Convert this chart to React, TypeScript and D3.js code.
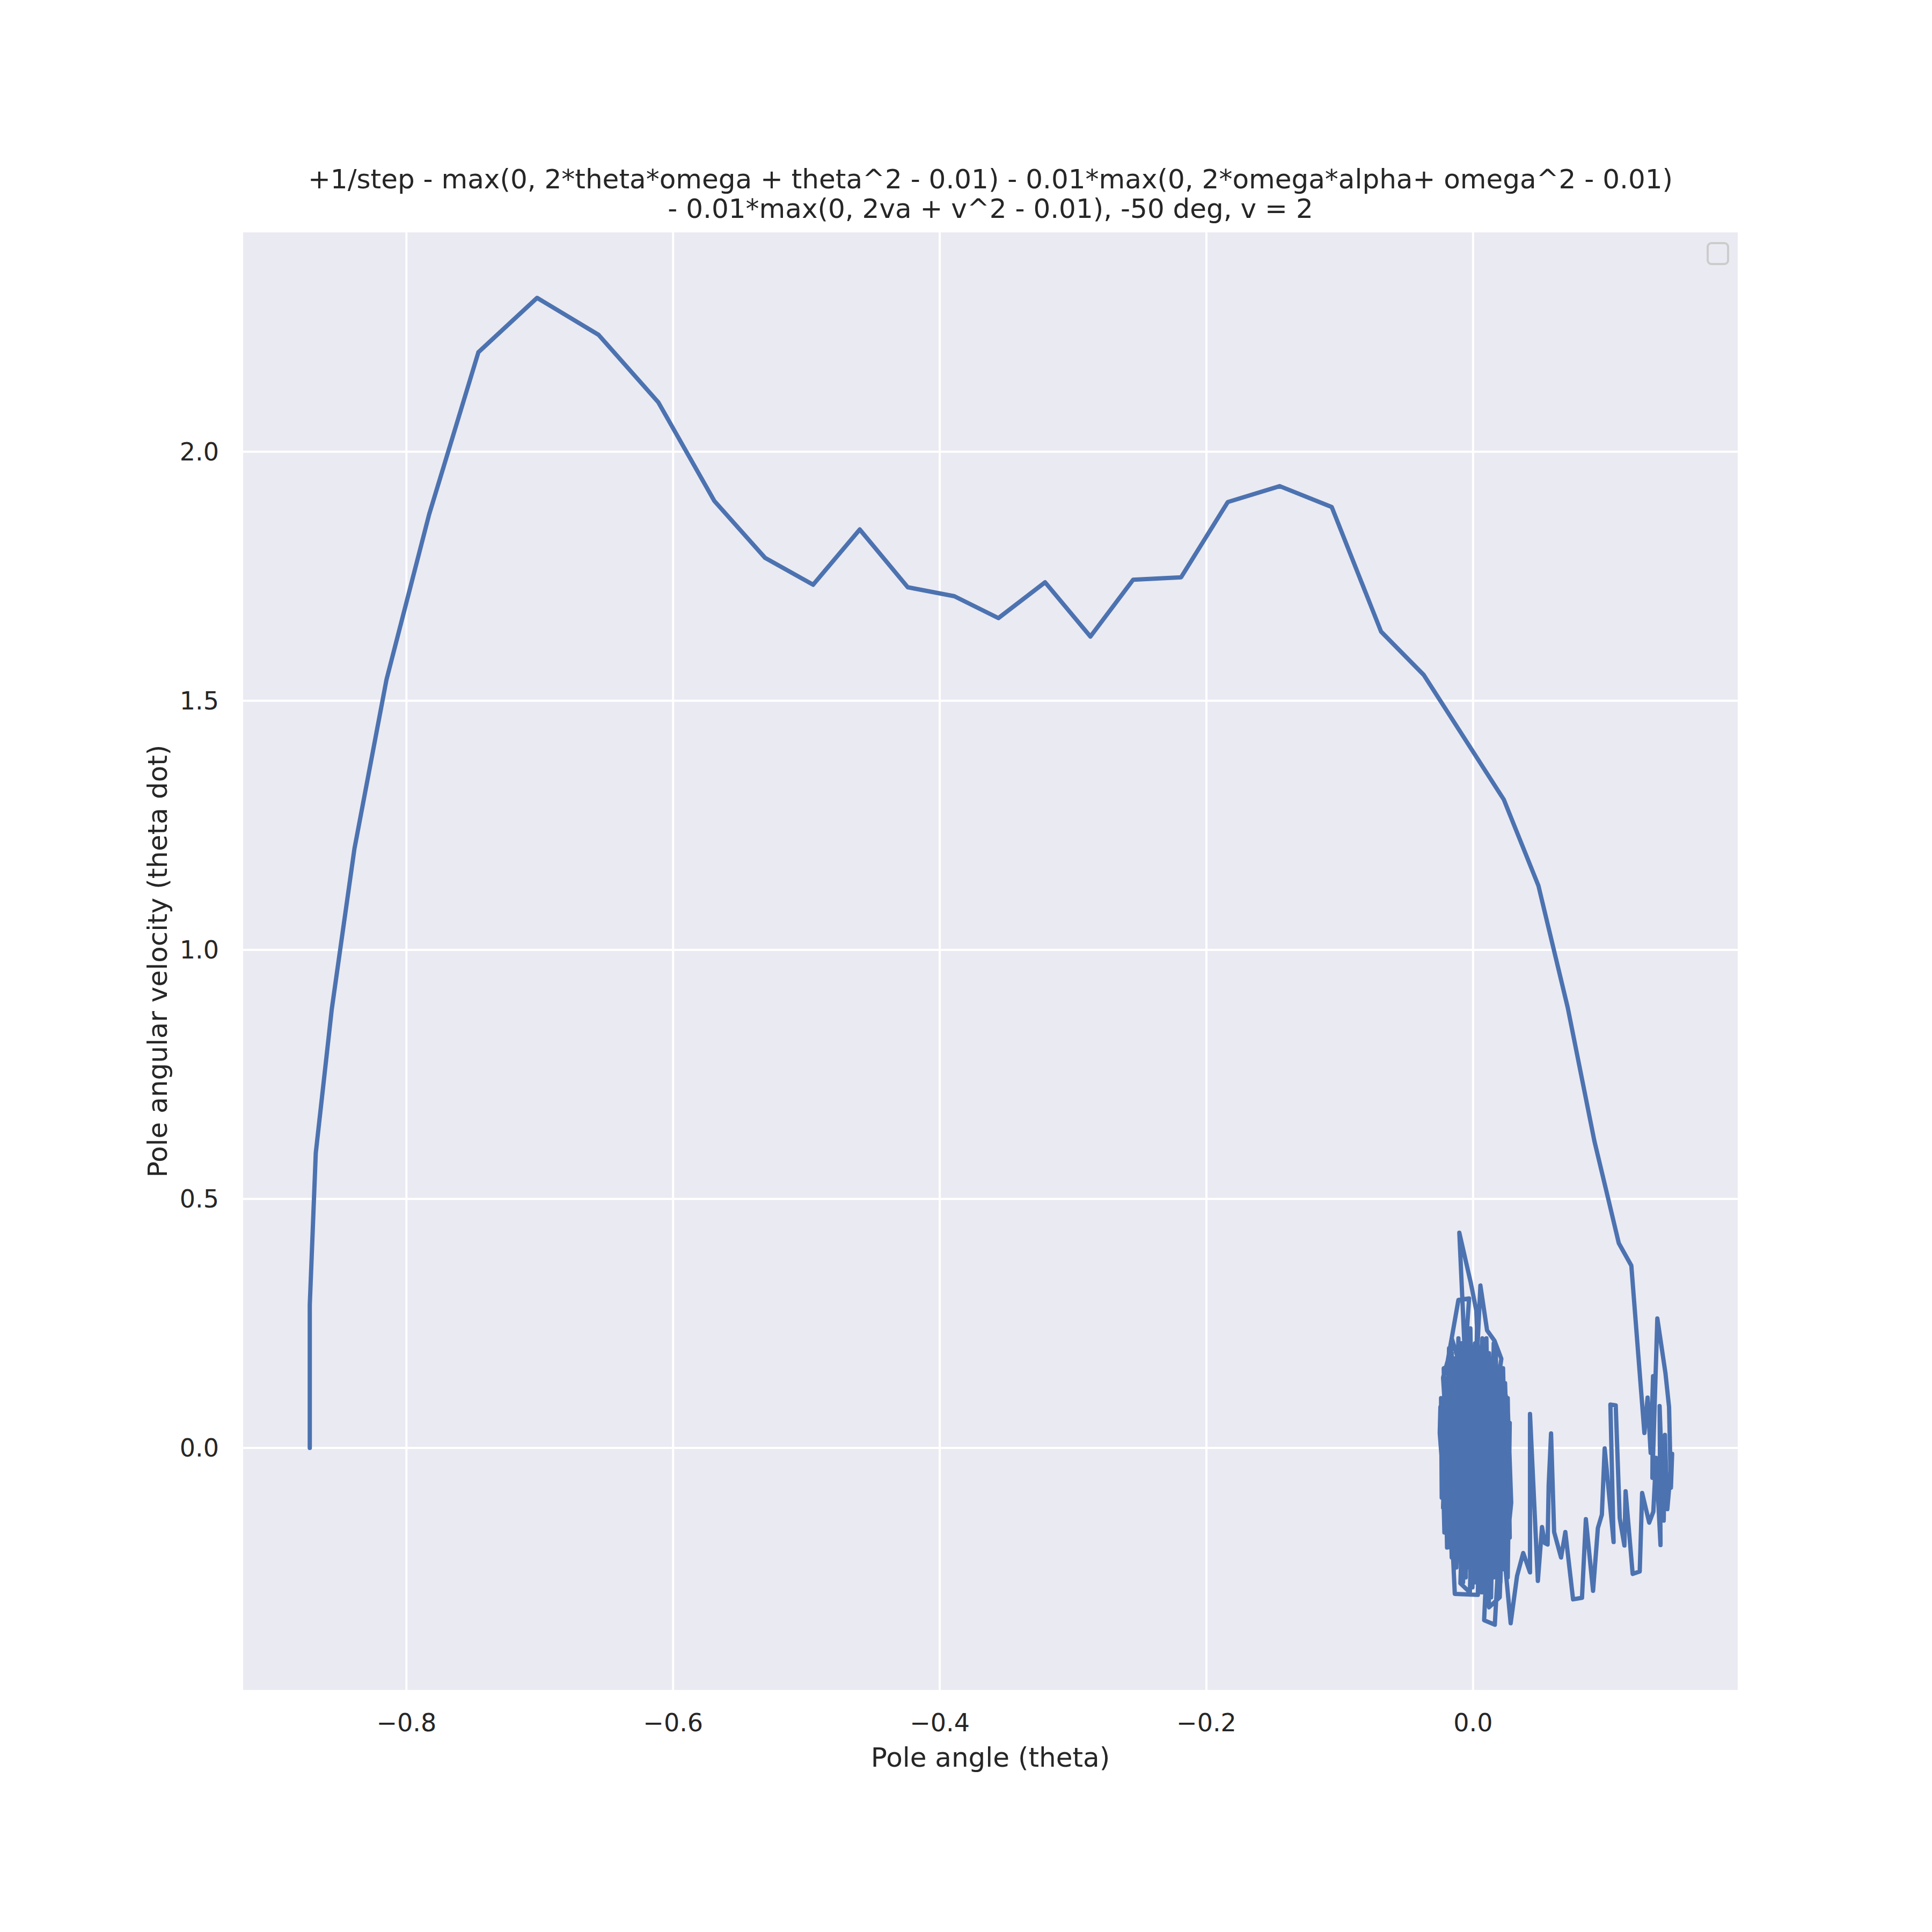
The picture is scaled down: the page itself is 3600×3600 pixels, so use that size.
import React from 'react';
import * as d3 from 'd3';

// swing-up part of the trajectory: [theta, theta dot]
const swingUp: [number, number][] = [
  [-0.8725, 0.0], [-0.8725, 0.287], [-0.868, 0.592], [-0.856, 0.881],
  [-0.839, 1.203], [-0.815, 1.542], [-0.783, 1.874], [-0.746, 2.2],
  [-0.702, 2.309], [-0.656, 2.235], [-0.611, 2.099], [-0.569, 1.901],
  [-0.531, 1.787], [-0.495, 1.733], [-0.46, 1.844], [-0.424, 1.728],
  [-0.389, 1.71], [-0.356, 1.666], [-0.321, 1.738], [-0.287, 1.629],
  [-0.255, 1.743], [-0.219, 1.748], [-0.184, 1.899], [-0.145, 1.931],
  [-0.106, 1.889], [-0.069, 1.639], [-0.037, 1.552], [0.023, 1.302],
  [0.049, 1.129], [0.071, 0.884], [0.091, 0.616], [0.102, 0.493],
  [0.1093, 0.411], [0.1187, 0.366],
];

// oscillation on the right after the swing
const rightCluster: [number, number][] = [
  [0.1285, 0.03], [0.1309, 0.101], [0.1332, -0.01], [0.135, 0.144],
  [0.1345, -0.06], [0.1382, 0.26], [0.1443, 0.15], [0.147, 0.082],
  [0.1484, -0.08], [0.1493, -0.012], [0.1457, -0.123], [0.1439, 0.026],
  [0.143, -0.146], [0.1399, 0.084], [0.1406, -0.195], [0.1372, -0.02],
  [0.1352, -0.128], [0.1321, -0.15], [0.1268, -0.0905],
];

// drift back towards theta = 0
const driftBack: [number, number][] = [
  [0.125, -0.248], [0.1197, -0.253], [0.1144, -0.087], [0.1135, -0.196],
  [0.11, -0.141], [0.107, 0.0855], [0.103, 0.087], [0.1054, -0.189],
  [0.0987, -0.001], [0.0966, -0.134], [0.0936, -0.161], [0.09, -0.287],
  [0.0846, -0.143], [0.0817, -0.301], [0.075, -0.304], [0.0692, -0.169],
  [0.066, -0.22], [0.0608, -0.169], [0.0585, 0.029], [0.0567, -0.075],
  [0.0559, -0.194], [0.0538, -0.191], [0.0517, -0.159], [0.0486, -0.267],
  [0.0427, 0.068], [0.0427, -0.25], [0.0376, -0.211], [0.033, -0.257],
];

// balancing around the upright position
const settle: [number, number][] = [
  [0.0282, -0.352], [0.0236, -0.222], [0.0276, -0.11], [0.0256, 0.088],
  [0.0163, -0.355], [0.0083, -0.346], [0.015, 0.06], [0.0212, 0.179],
  [0.0161, 0.215], [0.0105, 0.236], [0.0055, 0.326], [0.0024, 0.15],
  [-0.0024, -0.29], [-0.0095, -0.272], [-0.005, 0.12], [-0.0103, 0.432],
  [-0.0016, 0.33], [0.0024, 0.276], [0.006, 0.05], [0.0036, -0.295],
  [-0.0137, -0.293], [-0.018, -0.05], [-0.0225, 0.141], [-0.019, 0.175],
  [-0.011, 0.297], [-0.003, 0.3], [-0.008, 0.1], [-0.015, -0.2],
  [-0.0204, -0.131], [-0.025, 0.03], [-0.0245, 0.082], [-0.0197, 0.112],
  [-0.012, 0.0], [0.01, -0.25], [0.0183, -0.248], [0.0236, -0.242],
  [0.0286, -0.11], [0.0259, 0.091], [0.02, 0.15], [0.012, -0.2],
  [0.005, -0.15], [-0.005, 0.2], [-0.013, 0.05], [-0.022, -0.08],
  [-0.016, 0.22], [-0.008, 0.15], [0.0, -0.22], [0.007, 0.22],
  [0.014, 0.12], [0.018, -0.18], [0.024, 0.04], [0.02, -0.3],
  [0.012, -0.32], [0.006, 0.18], [-0.002, 0.06], [-0.01, -0.18],
  [-0.018, 0.08], [-0.014, 0.17], [-0.006, -0.1], [0.003, 0.1],
  [0.011, -0.05], [0.018, 0.1], [0.022, -0.15], [0.015, 0.02],
  [-0.022, 0.16], [-0.0195, -0.2], [-0.016, 0.19], [-0.0125, -0.24],
  [-0.009, 0.21], [-0.0055, -0.26], [-0.002, 0.24], [0.0015, -0.27],
  [0.005, 0.2], [0.0085, -0.28], [0.012, 0.19], [0.0155, -0.26],
  [0.019, 0.16], [0.0225, -0.24], [0.026, 0.1], [0.0275, -0.18],
  [0.024, 0.13], [0.0205, -0.27], [0.017, 0.2], [0.0135, -0.3],
  [0.01, 0.22], [0.0065, -0.29], [0.003, 0.25], [-0.0005, -0.28],
  [-0.004, 0.23], [-0.0075, -0.27], [-0.011, 0.22], [-0.0145, -0.25],
  [-0.018, 0.2], [-0.0215, -0.17], [-0.024, 0.1], [-0.0235, -0.1],
  [-0.0205, 0.12], [-0.017, -0.2], [-0.0135, 0.18], [-0.01, -0.22],
  [-0.0065, 0.16], [-0.003, -0.24], [0.0005, 0.19], [0.004, -0.22],
  [0.0075, 0.16], [0.011, -0.24], [0.0145, 0.17], [0.018, -0.22],
  [0.0215, 0.12], [0.025, -0.2], [0.0275, 0.05], [0.026, -0.26],
  [0.0225, 0.16], [0.019, -0.2], [0.0155, 0.21], [0.012, -0.27],
  [0.0085, 0.2], [0.005, -0.25], [0.0015, 0.21], [-0.002, -0.25],
  [-0.0055, 0.19], [-0.009, -0.25], [-0.0125, 0.17], [-0.016, -0.22],
  [-0.0195, 0.14], [-0.0225, -0.12], [-0.008, 0.03], [-0.004, 0.01],
];

const xTicks = [-0.8, -0.6, -0.4, -0.2, 0.0];
const yTicks = [0.0, 0.5, 1.0, 1.5, 2.0];

const titleLines = [
  '+1/step - max(0, 2*theta*omega + theta^2 - 0.01) - 0.01*max(0, 2*omega*alpha+ omega^2 - 0.01)',
  '- 0.01*max(0, 2va + v^2 - 0.01), -50 deg, v = 2',
];

const W = 3600;
const H = 3600;
const left = 453, right = 3238, top = 433, bottom = 3149;
const font = 'DejaVu Sans, sans-serif';
const ink = '#262626';

export default function App() {
  const x = d3.scaleLinear().domain([-0.9225, 0.1985]).range([left, right]);
  const y = d3.scaleLinear().domain([-0.486, 2.4405]).range([bottom, top]);

  const path = [...swingUp, ...rightCluster, ...driftBack, ...settle];
  const line = d3.line<[number, number]>()
    .x(d => x(d[0]))
    .y(d => y(d[1]));

  const fmt = (v: number) => d3.format('.1f')(v).replace('-', '\u2212');
  const cx = (left + right) / 2;
  const cy = (top + bottom) / 2;

  return (
    <svg width={W} height={H} style={{ position: 'absolute', left: 0, top: 0, background: '#fff' }}>
      <rect x={0} y={0} width={W} height={H} fill="#ffffff" />
      <rect x={left} y={top} width={right - left} height={bottom - top} fill="#EAEAF2" />
      {xTicks.map(t => (
        <line key={'gx' + t} x1={x(t)} x2={x(t)} y1={top} y2={bottom} stroke="#fff" strokeWidth={4} />
      ))}
      {yTicks.map(t => (
        <line key={'gy' + t} x1={left} x2={right} y1={y(t)} y2={y(t)} stroke="#fff" strokeWidth={4} />
      ))}
      <path
        d={line(path) || ''}
        fill="none"
        stroke="#4C72B0"
        strokeWidth={8}
        strokeLinejoin="round"
        strokeLinecap="round"
      />
      {/* empty legend */}
      <rect x={3182} y={453} width={38} height={39} rx={7} fill="#EAEAF2" stroke="#cccccc" strokeWidth={4} />

      {xTicks.map(t => (
        <text key={'tx' + t} x={x(t)} y={3226} textAnchor="middle" fontFamily={font} fontSize={46} fill={ink}>
          {fmt(t)}
        </text>
      ))}
      {yTicks.map(t => (
        <text key={'ty' + t} x={408} y={y(t)} dy="0.35em" textAnchor="end" fontFamily={font} fontSize={46} fill={ink}>
          {fmt(t)}
        </text>
      ))}
      <text x={cx} y={3292} textAnchor="middle" fontFamily={font} fontSize={50} fill={ink}>
        Pole angle (theta)
      </text>
      <text
        transform={`translate(311,${cy}) rotate(-90)`}
        textAnchor="middle"
        fontFamily={font}
        fontSize={50}
        fill={ink}
      >
        Pole angular velocity (theta dot)
      </text>
      {titleLines.map((s, i) => (
        <text key={i} x={cx} y={351 + i * 55} textAnchor="middle" fontFamily={font} fontSize={50} fill={ink}>
          {s}
        </text>
      ))}
    </svg>
  );
}
